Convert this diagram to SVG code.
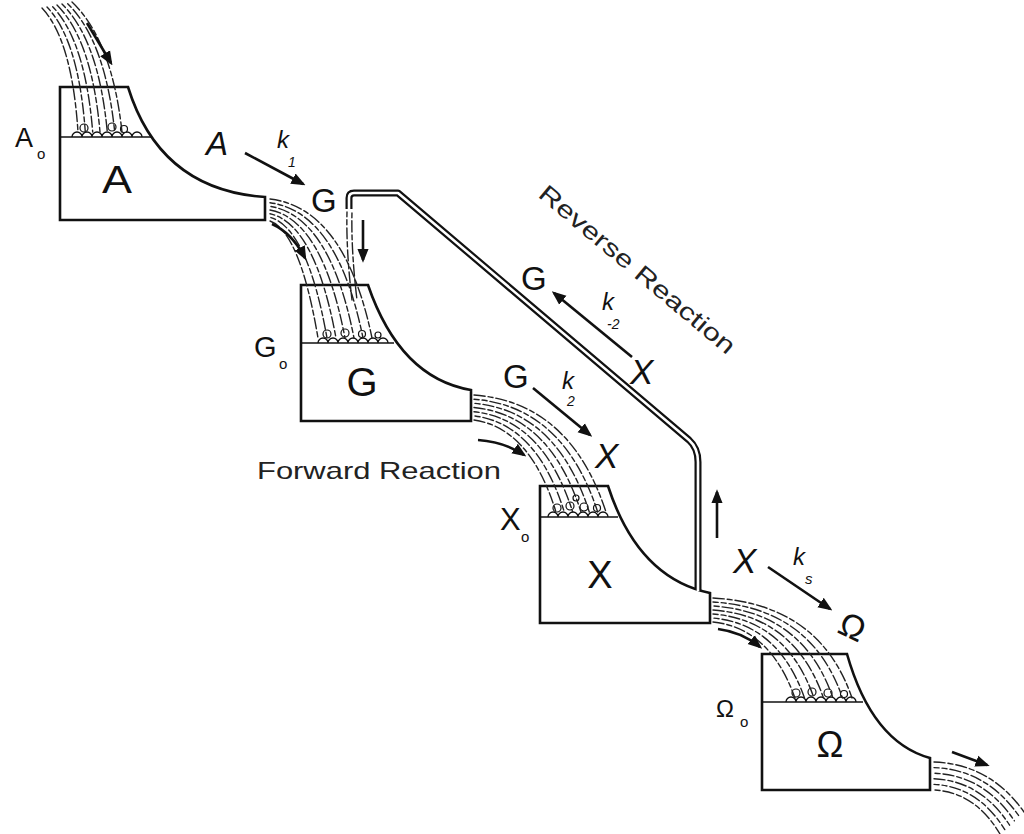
<svg xmlns="http://www.w3.org/2000/svg" width="1024" height="834" viewBox="0 0 1024 834">
<style>
.tank{fill:#fff;stroke:#111;stroke-width:2.6;stroke-linejoin:miter}
.water{fill:none;stroke:#111;stroke-width:1.6}
.foam{fill:none;stroke:#111;stroke-width:1.3}
.bub{fill:#fff;stroke:#111;stroke-width:1.2}
.fl{fill:none;stroke:#222;stroke-width:1.4;stroke-dasharray:11 3 5 3;stroke-linecap:round}
.o1{stroke-dashoffset:6}
.o2{stroke-dashoffset:13}
.arr{fill:none;stroke:#111;stroke-width:2.6;marker-end:url(#ah)}
.pipeo{fill:none;stroke:#111;stroke-width:7;stroke-linejoin:round}
.pipei{fill:none;stroke:#fff;stroke-width:2.6;stroke-linejoin:round}
.big{font-family:"Liberation Sans",Arial,sans-serif;fill:#111;text-anchor:middle}
.lab{font-family:"Liberation Sans",Arial,sans-serif;fill:#111}
.sub{font-family:"Liberation Sans",Arial,sans-serif;font-size:15px;fill:#111}
.it{font-family:"Liberation Sans",Arial,sans-serif;font-style:italic;fill:#111}
.cap{font-family:"Liberation Sans",Arial,sans-serif;font-size:24px;fill:#222}
</style>
<defs>
<marker id="ah" viewBox="0 0 10 10" refX="8" refY="5" markerWidth="5.5" markerHeight="5.5" orient="auto" markerUnits="strokeWidth"><path d="M0,1 L10,5 L0,9 Z" fill="#111"/></marker>
</defs>

<g id="tank-A">
<path class="tank" d="M60,87 L128,87 Q160,190 265,197 L265,220 L60,220 Z"/>
<path class="water" d="M60,137 L152,137"/>
<path class="foam" d="M72,137 a5,5 0 0 1 10,0 a5,5 0 0 1 10,0 a5,5 0 0 1 10,0 a5,5 0 0 1 10,0 a5,5 0 0 1 10,0 a5,5 0 0 1 10,0 a5,5 0 0 1 10,0"/>
<circle class="bub" cx="84" cy="128" r="4"/><circle class="bub" cx="112" cy="127" r="4"/><circle class="bub" cx="124" cy="129" r="3.5"/>
<text class="big" x="117" y="193" style="font-size:38px" textLength="30" lengthAdjust="spacingAndGlyphs">A</text>
<text class="lab" x="15" y="147" style="font-size:27px">A</text><text class="sub" x="37" y="159">o</text>
</g>

<g id="tank-G">
<path class="tank" d="M301,285 L368,285 Q400,378 471,390 L471,421 L301,421 Z"/>
<path class="water" d="M301,343 L394,343"/>
<path class="foam" d="M318,343 a5,5 0 0 1 10,0 a5,5 0 0 1 10,0 a5,5 0 0 1 10,0 a5,5 0 0 1 10,0 a5,5 0 0 1 10,0 a5,5 0 0 1 10,0 a5,5 0 0 1 10,0"/>
<circle class="bub" cx="327" cy="334" r="4"/><circle class="bub" cx="345" cy="333" r="4"/><circle class="bub" cx="362" cy="334" r="3.5"/><circle class="bub" cx="378" cy="335" r="3"/>
<text class="big" x="362" y="396" style="font-size:40px">G</text>
<text class="lab" x="254" y="357" style="font-size:29px">G</text><text class="sub" x="279" y="369">o</text>
</g>

<g id="tank-X">
<path class="tank" d="M540,486 L608,486 Q638,578 710,593 L710,623 L540,623 Z"/>
<path class="water" d="M540,517 L618,517"/>
<path class="foam" d="M548,517 a5,5 0 0 1 10,0 a5,5 0 0 1 10,0 a5,5 0 0 1 10,0 a5,5 0 0 1 10,0 a5,5 0 0 1 10,0 a5,5 0 0 1 10,0"/>
<circle class="bub" cx="557" cy="508" r="4"/><circle class="bub" cx="570" cy="506" r="4"/><circle class="bub" cx="584" cy="507" r="4"/><circle class="bub" cx="597" cy="508" r="3.5"/><circle class="bub" cx="576" cy="498" r="3"/>
<text class="big" x="600" y="588" style="font-size:38px">X</text>
<text class="lab" x="500" y="530" style="font-size:31px">X</text><text class="sub" x="521" y="542">o</text>
</g>

<g id="tank-Omega">
<path class="tank" d="M762,654 L847,654 Q872,742 930,758 L930,790 L762,790 Z"/>
<path class="water" d="M762,702 L863,702"/>
<path class="foam" d="M786,702 a5,5 0 0 1 10,0 a5,5 0 0 1 10,0 a5,5 0 0 1 10,0 a5,5 0 0 1 10,0 a5,5 0 0 1 10,0 a5,5 0 0 1 10,0 a5,5 0 0 1 10,0"/>
<circle class="bub" cx="796" cy="693" r="4"/><circle class="bub" cx="812" cy="692" r="4"/><circle class="bub" cx="828" cy="693" r="4"/><circle class="bub" cx="844" cy="694" r="3.5"/>
<text class="big" x="830" y="757" style="font-size:36px">Ω</text>
<text class="lab" x="716" y="717" style="font-size:24px">Ω</text><text class="sub" x="740" y="727">o</text>
</g>

<g id="streams">
<path class="fl" d="M42,8 Q72,40 78,132"/>
<path class="fl o1" d="M47,7 Q78.7,40 85.3,132"/>
<path class="fl o2" d="M52,6 Q85.3,40 92.7,132"/>
<path class="fl" d="M57,5 Q92,40 100,132"/>
<path class="fl o1" d="M62,4 Q98.7,40 107.3,132"/>
<path class="fl o2" d="M67,3 Q105.3,40 114.7,132"/>
<path class="fl" d="M72,2 Q112,40 122,132"/>

<path class="fl" d="M270,199 Q345,208 372,338"/>
<path class="fl o1" d="M270,202.7 Q337.5,212 363,338"/>
<path class="fl o2" d="M270,206.3 Q330,216 354,338"/>
<path class="fl" d="M270,210 Q322.5,220 345,338"/>
<path class="fl o1" d="M270,213.7 Q315,224 336,338"/>
<path class="fl o2" d="M270,217.3 Q307.5,228 327,338"/>
<path class="fl" d="M270,221 Q300,232 318,338"/>
<path class="fl o1" d="M347,212 Q346,250 352,300"/>
<path class="fl o2" d="M352,212 Q351,250 357,300"/>

<path class="fl" d="M474,395 Q570,402 606,512"/>
<path class="fl o1" d="M474,399.2 Q563.3,406.3 597.7,512"/>
<path class="fl o2" d="M474,403.3 Q556.7,410.7 589.3,512"/>
<path class="fl" d="M474,407.5 Q550,415 581,512"/>
<path class="fl o1" d="M474,411.7 Q543.3,419.3 572.7,512"/>
<path class="fl o2" d="M474,415.8 Q536.7,423.7 564.3,512"/>
<path class="fl" d="M474,420 Q530,428 556,512"/>

<path class="fl" d="M713,598 Q820,604 852,698"/>
<path class="fl o1" d="M713,602 Q811.7,608 842.5,698"/>
<path class="fl o2" d="M713,606 Q803.3,612 833,698"/>
<path class="fl" d="M713,610 Q795,616 823.5,698"/>
<path class="fl o1" d="M713,614 Q786.7,620 814,698"/>
<path class="fl o2" d="M713,618 Q778.3,624 804.5,698"/>
<path class="fl" d="M713,622 Q770,628 795,698"/>

<path class="fl" d="M934,762 Q990,764 1024,812"/>
<path class="fl o1" d="M934,767.6 Q987,769.6 1019.2,816.4"/>
<path class="fl o2" d="M934,773.2 Q984,775.2 1014.4,820.8"/>
<path class="fl" d="M934,778.8 Q981,780.8 1009.6,825.2"/>
<path class="fl o1" d="M934,784.4 Q978,786.4 1004.8,829.6"/>
<path class="fl o2" d="M934,790 Q975,792 1000,834"/>
</g>

<g id="pipe">
<path class="pipeo" d="M349,209 L349,198 Q349,193 354,193 L398,193 L689,440 Q698,448 698,462 L698,590"/>
<path class="pipei" d="M349,210 L349,198 Q349,193 354,193 L398,193 L689,440 Q698,448 698,462 L698,591"/>
</g>

<g id="connectors">
<path class="arr" d="M87,23 L111,63"/>
<path class="arr" d="M245,153 L303,184"/>
<path class="arr" d="M272,224 Q292,233 305,258"/>
<path class="arr" d="M363,220 L363,260"/>
<path class="arr" d="M632,357 L554,293"/>
<path class="arr" d="M533,388 L590,435"/>
<path class="arr" d="M478,440 Q505,442 524,455"/>
<path class="arr" d="M717,538 L717,492"/>
<path class="arr" d="M768,567 L830,609"/>
<path class="arr" d="M718,629 Q742,632 760,647"/>
<path class="arr" d="M952,752 L987,765"/>
</g>

<g id="labels">
<text class="it" style="font-size:33px" x="206" y="155">A</text>
<text class="it" style="font-size:24px" x="277" y="148">k</text><text class="it" style="font-size:14px" x="288" y="167">1</text>
<text class="lab" style="font-size:33px" x="311" y="212">G</text>

<text class="cap" transform="translate(537,196) rotate(40)" textLength="248" lengthAdjust="spacingAndGlyphs">Reverse Reaction</text>
<text class="lab" style="font-size:33px" x="521" y="290">G</text>
<text class="it" style="font-size:24px" x="602" y="310">k</text><text class="it" style="font-size:14px" x="607" y="329">-2</text>
<text class="it" style="font-size:35px" x="630" y="384">X</text>

<text class="lab" style="font-size:33px" x="503" y="388">G</text>
<text class="it" style="font-size:24px" x="562" y="389">k</text><text class="it" style="font-size:14px" x="567" y="406">2</text>
<text class="it" style="font-size:35px" x="595" y="468">X</text>

<text class="cap" x="257" y="479" textLength="244" lengthAdjust="spacingAndGlyphs">Forward Reaction</text>

<text class="it" style="font-size:35px" x="733" y="573">X</text>
<text class="it" style="font-size:24px" x="793" y="565">k</text><text class="it" style="font-size:15px" x="805" y="584">s</text>
<text class="lab" style="font-size:34px" transform="translate(836,632) rotate(25)">Ω</text>
</g>
</svg>
